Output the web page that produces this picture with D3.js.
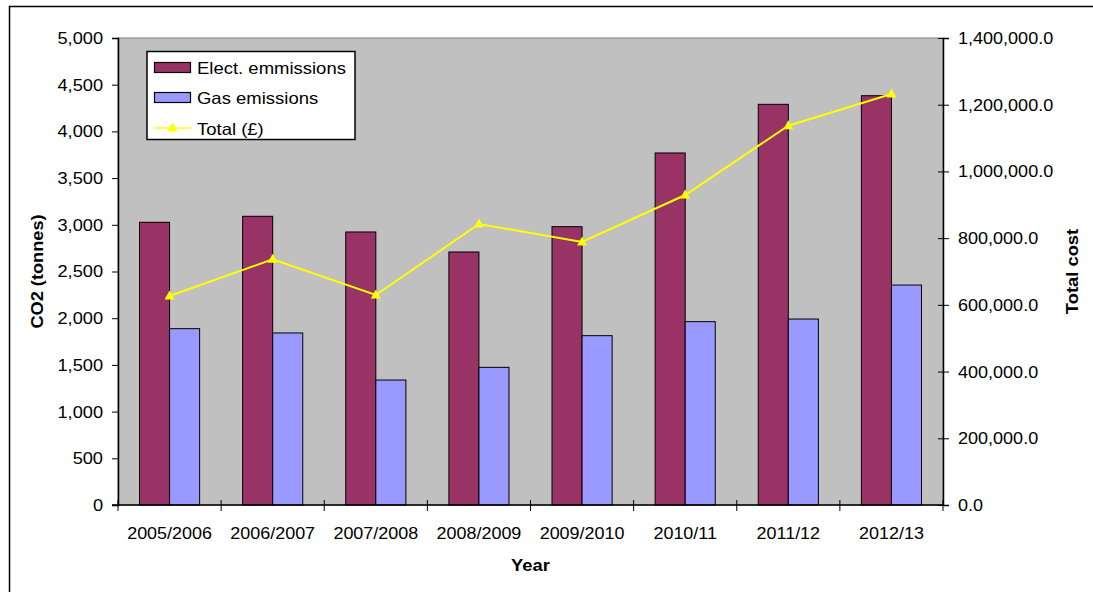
<!DOCTYPE html>
<html>
<head>
<meta charset="utf-8">
<script src="https://cdn.jsdelivr.net/npm/d3@7"></script>
<style>
  html, body { margin: 0; padding: 0; background: #fff; }
  svg { display: block; font-family: "Liberation Sans", Arial, sans-serif; }
</style>
</head>
<body>
<svg id="chart" width="1093" height="592"></svg>
<script>
const categories = ["2005/2006", "2006/2007", "2007/2008", "2008/2009", "2009/2010", "2010/11", "2011/12", "2012/13"];
const electEmissions = [3027, 3091, 2923, 2709, 2980, 3769, 4290, 4382];
const gasEmissions = [1888, 1842, 1338, 1474, 1813, 1963, 1991, 2355];
const totalCost = [626500, 736600, 629550, 842400, 788400, 929300, 1137100, 1232100];
const leftTicks = [0, 500, 1000, 1500, 2000, 2500, 3000, 3500, 4000, 4500, 5000];
const rightTicks = [0, 200000, 400000, 600000, 800000, 1000000, 1200000, 1400000];
const seriesNames = ["Elect. emmissions", "Gas emissions", "Total (£)"];

const W = 1093, H = 592;
const plot = { left: 118, right: 943, top: 38, bottom: 505 };
const colElect = "#993366", colGas = "#9999FF", colTotal = "#FFFF00", colPlot = "#C0C0C0";

const svg = d3.select("#chart");

function stretch(sel, k) {
  sel.each(function () {
    const L = this.getComputedTextLength();
    this.setAttribute("textLength", L * k);
    this.setAttribute("lengthAdjust", "spacingAndGlyphs");
  });
}

// outer chart border
svg.append("rect").attr("x", 9.5).attr("y", 6.5).attr("width", W + 20).attr("height", H + 20)
  .attr("fill", "#fff").attr("stroke", "#000").attr("stroke-width", 1.5);

const x = d3.scaleBand().domain(categories).range([plot.left, plot.right]).padding(0);
const yL = d3.scaleLinear().domain([0, 5000]).range([plot.bottom, plot.top]);
const yR = d3.scaleLinear().domain([0, 1400000]).range([plot.bottom, plot.top]);
const barW = x.bandwidth() / 3.43;
const xs = d3.scaleBand().domain(["elect", "gas"]).range([-barW, barW]).padding(0);

// plot area
svg.append("rect").attr("x", plot.left).attr("y", plot.top)
  .attr("width", plot.right - plot.left).attr("height", plot.bottom - plot.top)
  .attr("fill", colPlot).attr("stroke", "#808080").attr("stroke-width", 1);

// bars
const g = svg.append("g");
const groups = g.selectAll("g.cat").data(categories).join("g")
  .attr("transform", d => `translate(${x(d) + x.bandwidth() / 2},0)`);
groups.append("rect")
  .attr("x", xs("elect")).attr("width", xs.bandwidth())
  .attr("y", (d, i) => yL(electEmissions[i]))
  .attr("height", (d, i) => yL(0) - yL(electEmissions[i]))
  .attr("fill", colElect).attr("stroke", "#000").attr("stroke-width", 1);
groups.append("rect")
  .attr("x", xs("gas")).attr("width", xs.bandwidth())
  .attr("y", (d, i) => yL(gasEmissions[i]))
  .attr("height", (d, i) => yL(0) - yL(gasEmissions[i]))
  .attr("fill", colGas).attr("stroke", "#000").attr("stroke-width", 1);

// line
const cx = d => x(d) + x.bandwidth() / 2;
const line = d3.line().x((d, i) => cx(categories[i])).y(d => yR(d));
svg.append("path").datum(totalCost).attr("d", line)
  .attr("fill", "none").attr("stroke", colTotal).attr("stroke-width", 2);
const tri = "M0,-5.5L5,3.5L-5,3.5Z";
svg.selectAll("path.mk").data(totalCost).join("path").attr("class", "mk")
  .attr("d", tri)
  .attr("transform", (d, i) => `translate(${cx(categories[i])},${yR(d)})`)
  .attr("fill", colTotal);

// axes
const fs = 17;
const axL = svg.append("g").attr("transform", `translate(${plot.left},0)`)
  .call(d3.axisLeft(yL).tickValues(leftTicks).tickFormat(d3.format(",")).tickSize(6).tickPadding(9));
const axR = svg.append("g").attr("transform", `translate(${plot.right},0)`)
  .call(d3.axisRight(yR).tickValues(rightTicks).tickFormat(d3.format(",.1f")).tickSize(6).tickPadding(9));
axR.selectAll(".tick line").attr("x1", -5);
const axB = svg.append("g").attr("transform", `translate(0,${plot.bottom})`)
  .call(d3.axisBottom(x).tickSize(0).tickPadding(22));
// category boundary ticks
svg.append("g").selectAll("line").data(d3.range(categories.length + 1)).join("line")
  .attr("x1", i => plot.left + i * x.bandwidth()).attr("x2", i => plot.left + i * x.bandwidth())
  .attr("y1", plot.bottom - 5).attr("y2", plot.bottom + 6)
  .attr("stroke", "#000").attr("stroke-width", 1);

[axL, axR, axB].forEach(a => {
  a.select(".domain").attr("stroke", "#000").attr("stroke-width", 1.5);
  a.selectAll(".tick line").attr("stroke", "#000");
  a.selectAll("text").attr("font-size", fs).attr("fill", "#000")
    .attr("font-family", "'Liberation Sans', Arial, sans-serif");
});
axB.select(".domain").attr("d", `M${plot.left - 6},0H${plot.right}`);
axB.selectAll("text").attr("dy", "0.71em");
stretch(axL.selectAll("text"), 1.07);
stretch(axR.selectAll("text"), 1.06);
stretch(axB.selectAll("text"), 1.055);

// axis titles
const tY = svg.append("text").attr("x", (plot.left + plot.right) / 2).attr("y", 571)
  .attr("text-anchor", "middle").attr("font-size", 17).attr("font-weight", "bold").text("Year");
const tL = svg.append("text").attr("transform", `translate(43,${(plot.top + plot.bottom) / 2}) rotate(-90)`)
  .attr("text-anchor", "middle").attr("font-size", 17).attr("font-weight", "bold").text("CO2 (tonnes)");
const tR = svg.append("text").attr("transform", `translate(1078,${(plot.top + plot.bottom) / 2}) rotate(-90)`)
  .attr("text-anchor", "middle").attr("font-size", 17).attr("font-weight", "bold").text("Total cost");
stretch(tY, 1.08); stretch(tL, 1.07); stretch(tR, 1.08);

// legend
const lg = svg.append("g");
lg.append("rect").attr("x", 147).attr("y", 51.5).attr("width", 208).attr("height", 88)
  .attr("fill", "#fff").attr("stroke", "#000").attr("stroke-width", 1.5);
const lgY = [67.5, 97.5, 128];
lg.append("rect").attr("x", 154.5).attr("y", lgY[0] - 5).attr("width", 36).attr("height", 10)
  .attr("fill", colElect).attr("stroke", "#000").attr("stroke-width", 1.2);
lg.append("rect").attr("x", 154.5).attr("y", lgY[1] - 5).attr("width", 36).attr("height", 10)
  .attr("fill", colGas).attr("stroke", "#000").attr("stroke-width", 1.2);
lg.append("line").attr("x1", 154).attr("x2", 191).attr("y1", lgY[2]).attr("y2", lgY[2])
  .attr("stroke", colTotal).attr("stroke-width", 1.5);
lg.append("path").attr("d", tri).attr("transform", `translate(172.5,${lgY[2]})`).attr("fill", colTotal);
const lt = lg.selectAll("text.lt").data(seriesNames).join("text").attr("class", "lt")
  .attr("x", 197).attr("y", (d, i) => lgY[i] + 6.5)
  .attr("font-size", 16.5).attr("fill", "#000").text(d => d);
stretch(lt, 1.12);
</script>
</body>
</html>
